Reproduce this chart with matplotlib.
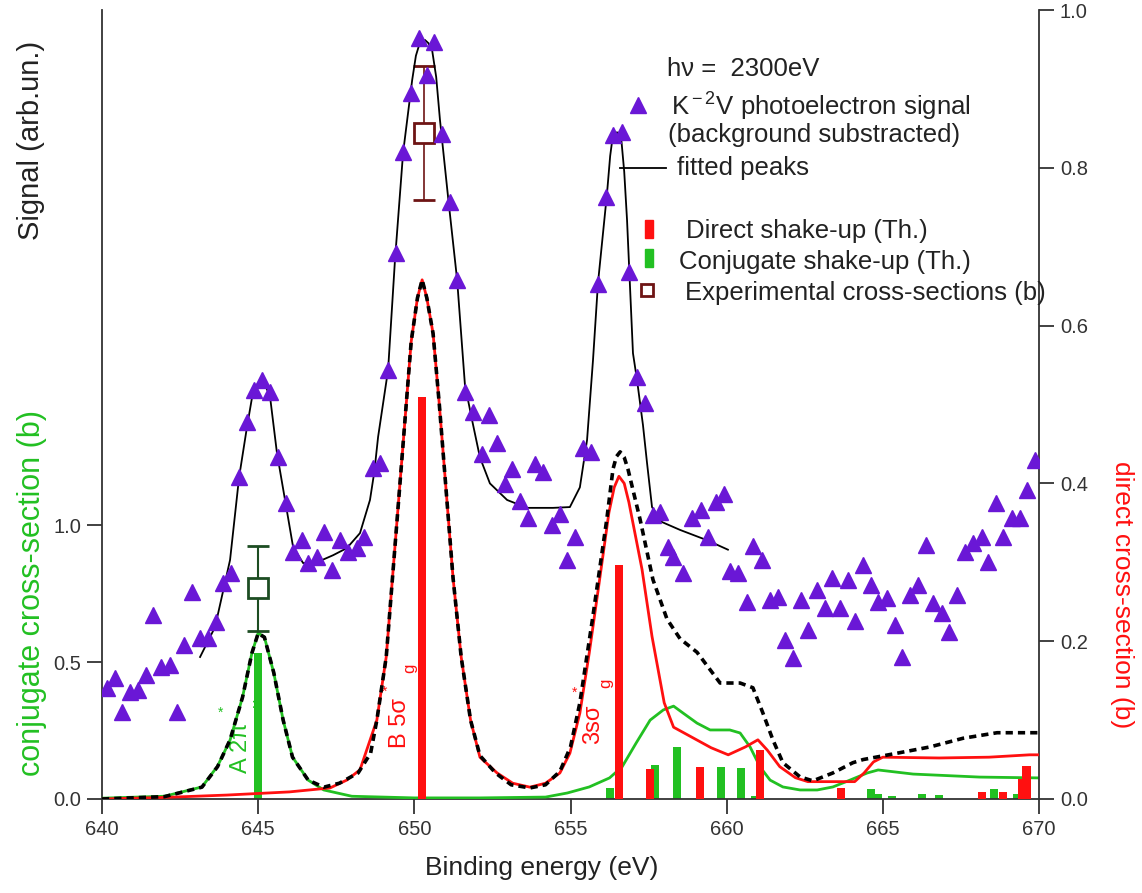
import matplotlib
matplotlib.use('Agg')
import matplotlib.pyplot as plt
from matplotlib.patches import Rectangle
from matplotlib.lines import Line2D

plt.rcParams['font.family'] = ['Liberation Sans', 'DejaVu Sans']
plt.rcParams['mathtext.fontset'] = 'custom'
plt.rcParams['mathtext.rm'] = 'Liberation Sans'
plt.rcParams['mathtext.it'] = 'Liberation Sans:italic'
plt.rcParams['mathtext.bf'] = 'Liberation Sans:bold'

# ---------------- data ----------------
# K^-2V photoelectron signal (arb. units, background subtracted)
sig_x = [640.16, 640.42, 640.64, 640.90, 641.15, 641.41, 641.63, 641.89, 642.18, 642.40,
         642.63, 642.88, 643.14, 643.39, 643.65, 643.87, 644.13, 644.39, 644.64, 644.87,
         645.12, 645.38, 645.64, 645.89, 646.12, 646.40, 646.60, 646.88, 647.11, 647.36,
         647.62, 647.88, 648.16, 648.39, 648.68, 648.90, 649.16, 649.41, 649.64, 649.89,
         650.15, 650.41, 650.63, 650.89, 651.14, 651.37, 651.62, 651.88, 652.17, 652.39,
         652.65, 652.90, 653.13, 653.38, 653.64, 653.86, 654.12, 654.41, 654.66, 654.89,
         655.14, 655.40, 655.66, 655.88, 656.14, 656.36, 656.65, 656.87, 657.13, 657.39,
         657.64, 657.87, 658.12, 658.28, 658.60, 658.89, 659.18, 659.40, 659.66, 659.91,
         660.11, 660.36, 660.65, 660.84, 661.13, 661.39, 661.64, 661.87, 662.12, 662.38,
         662.60, 662.89, 663.15, 663.37, 663.63, 663.88, 664.11, 664.37, 664.62, 664.85,
         665.13, 665.39, 665.61, 665.87, 666.13, 666.38, 666.61, 666.89, 667.12, 667.37,
         667.63, 667.89, 668.18, 668.37, 668.62, 668.85, 669.14, 669.39, 669.62, 669.87]
sig_y = [0.141, 0.153, 0.110, 0.136, 0.138, 0.157, 0.233, 0.167, 0.170, 0.110,
         0.195, 0.262, 0.204, 0.204, 0.224, 0.274, 0.286, 0.408, 0.478, 0.518,
         0.531, 0.516, 0.433, 0.375, 0.313, 0.328, 0.299, 0.307, 0.338, 0.290,
         0.328, 0.313, 0.318, 0.332, 0.420, 0.426, 0.544, 0.692, 0.820, 0.895,
         0.965, 0.918, 0.959, 0.843, 0.757, 0.658, 0.516, 0.490, 0.437, 0.487,
         0.451, 0.399, 0.418, 0.378, 0.356, 0.425, 0.414, 0.347, 0.361, 0.303,
         0.332, 0.445, 0.440, 0.653, 0.763, 0.842, 0.845, 0.668, 0.535, 0.502,
         0.360, 0.364, 0.319, 0.307, 0.286, 0.356, 0.366, 0.332, 0.376, 0.387,
         0.289, 0.286, 0.250, 0.321, 0.303, 0.252, 0.256, 0.202, 0.179, 0.252,
         0.214, 0.265, 0.242, 0.280, 0.242, 0.278, 0.226, 0.297, 0.271, 0.250,
         0.255, 0.221, 0.180, 0.259, 0.271, 0.322, 0.248, 0.236, 0.212, 0.259,
         0.313, 0.324, 0.332, 0.300, 0.375, 0.332, 0.356, 0.356, 0.392, 0.430]

# fitted peaks (signal scale)
fit_x = [643.14, 643.62, 644.10, 644.39, 644.64, 644.83, 644.98, 645.12, 645.25, 645.38,
         645.60, 645.86, 646.12, 646.44, 646.88, 647.40, 647.84, 648.26, 648.58, 648.72,
         648.84, 649.16, 649.38, 649.64, 649.93, 650.05, 650.18, 650.34, 650.45, 650.57,
         650.70, 650.82, 651.08, 651.37, 651.62, 651.85, 652.10, 652.42, 652.97, 653.61,
         654.44, 654.98, 655.30, 655.53, 655.72, 655.88, 656.17, 656.27, 656.36, 656.49,
         656.62, 656.72, 656.81, 657.00, 657.13, 657.32, 657.45, 657.61, 657.93, 658.51,
         659.37, 660.04]
fit_y = [0.180, 0.218, 0.303, 0.408, 0.471, 0.515, 0.526, 0.527, 0.522, 0.510,
         0.439, 0.379, 0.319, 0.299, 0.300, 0.309, 0.318, 0.337, 0.379, 0.415,
         0.459, 0.544, 0.683, 0.819, 0.911, 0.942, 0.959, 0.962, 0.958, 0.949,
         0.915, 0.861, 0.763, 0.658, 0.525, 0.480, 0.433, 0.400, 0.379, 0.369,
         0.369, 0.370, 0.395, 0.455, 0.556, 0.654, 0.768, 0.815, 0.842, 0.845,
         0.839, 0.795, 0.734, 0.565, 0.531, 0.474, 0.426, 0.370, 0.351, 0.341,
         0.328, 0.316]

# direct cross-section curve (b), right axis
dir_x = [640.0, 642.0, 644.0, 646.0, 647.3, 647.84, 648.26, 648.8, 649.1, 649.3,
         649.5, 649.7, 649.9, 650.1, 650.25, 650.4, 650.6, 650.8, 651.0, 651.24,
         651.5, 651.8, 652.1, 652.65, 653.15, 653.7, 654.2, 654.66, 654.98, 655.3,
         655.6, 655.9, 656.23, 656.4, 656.55, 656.72, 656.87, 657.29, 657.61, 658.0,
         658.3, 658.9, 659.5, 660.05, 660.6, 661.0, 661.3, 661.7, 662.2, 662.6,
         663.4, 664.1, 664.4, 664.7, 665.0, 666.8, 668.4, 669.7, 670.0]
dir_y = [0.0, 0.002, 0.005, 0.009, 0.014, 0.024, 0.037, 0.10, 0.18, 0.28,
         0.38, 0.48, 0.58, 0.635, 0.658, 0.635, 0.59, 0.50, 0.40, 0.28,
         0.18, 0.10, 0.053, 0.033, 0.020, 0.015, 0.020, 0.033, 0.058, 0.109,
         0.185, 0.269, 0.363, 0.395, 0.409, 0.400, 0.376, 0.291, 0.206, 0.122,
         0.091, 0.078, 0.065, 0.056, 0.066, 0.075, 0.062, 0.041, 0.027, 0.022,
         0.022, 0.022, 0.033, 0.047, 0.053, 0.052, 0.053, 0.056, 0.056]

# total (dashed) curve, right axis
tot_x = [640.0, 642.0, 643.2, 643.7, 644.1, 644.5, 644.8, 645.0, 645.2, 645.5,
         645.8, 646.1, 646.6, 647.1, 647.6, 648.2, 648.6, 648.8, 649.1, 649.3,
         649.5, 649.7, 649.9, 650.1, 650.25, 650.4, 650.6, 650.8, 651.0, 651.24,
         651.5, 651.8, 652.1, 652.6, 653.1, 653.7, 654.2, 654.66, 655.0, 655.3,
         655.7, 656.16, 656.36, 656.47, 656.59, 656.72, 656.84, 657.23, 657.64, 658.09,
         658.51, 659.05, 659.79, 660.43, 660.84, 661.16, 661.48, 661.8, 662.35, 662.76,
         663.4, 664.04, 664.37, 665.45, 666.51, 667.57, 668.66, 670.0]
tot_y = [0.0, 0.003, 0.015, 0.041, 0.075, 0.129, 0.185, 0.210, 0.205, 0.160,
         0.100, 0.053, 0.024, 0.015, 0.020, 0.033, 0.058, 0.10, 0.18, 0.28,
         0.38, 0.48, 0.58, 0.635, 0.658, 0.635, 0.59, 0.50, 0.40, 0.28,
         0.18, 0.10, 0.055, 0.033, 0.018, 0.014, 0.018, 0.035, 0.066, 0.122,
         0.227, 0.354, 0.418, 0.434, 0.440, 0.433, 0.418, 0.354, 0.278, 0.228,
         0.203, 0.186, 0.147, 0.147, 0.141, 0.109, 0.075, 0.046, 0.028, 0.023,
         0.033, 0.046, 0.050, 0.058, 0.066, 0.077, 0.084, 0.084]

# conjugate cross-section curve (b), left axis
conj_x = [640.0, 642.0, 643.2, 643.7, 644.1, 644.5, 644.8, 645.0, 645.2, 645.5,
          645.8, 646.1, 646.6, 647.1, 648.0, 650.0, 652.1, 654.2, 654.9, 655.6,
          656.25, 656.65, 657.1, 657.55, 657.97, 658.3, 658.6, 659.05, 659.47, 660.1,
          660.43, 660.75, 661.07, 661.39, 661.8, 662.35, 662.9, 663.4, 663.95, 664.5,
          664.85, 665.97, 668.1, 670.0]
conj_y = [0.003, 0.010, 0.044, 0.120, 0.215, 0.372, 0.533, 0.606, 0.591, 0.460,
          0.288, 0.153, 0.069, 0.033, 0.010, 0.004, 0.004, 0.007, 0.022, 0.044,
          0.077, 0.117, 0.204, 0.288, 0.325, 0.339, 0.314, 0.277, 0.252, 0.252,
          0.241, 0.190, 0.117, 0.069, 0.044, 0.033, 0.033, 0.044, 0.069, 0.095,
          0.106, 0.091, 0.080, 0.077]

# theoretical lines (sticks)
dbar_x = [650.25, 656.55, 657.55, 659.15, 661.07, 663.66, 668.18, 668.85, 669.45, 669.60]
dbar_y = [0.510, 0.297, 0.038, 0.041, 0.062, 0.014, 0.009, 0.009, 0.025, 0.042]
cbar_x = [645.00, 656.27, 657.70, 658.41, 659.82, 660.46, 660.90, 664.62, 664.85, 665.30,
          666.25, 666.80, 668.56, 669.28]
cbar_y = [0.533, 0.040, 0.124, 0.190, 0.117, 0.113, 0.010, 0.036, 0.020, 0.010,
          0.020, 0.015, 0.036, 0.020]

# experimental cross-sections
exp_conj_x, exp_conj_y, exp_conj_err = [645.0], [0.77], [0.155]
exp_dir_x, exp_dir_y, exp_dir_err = [650.3], [0.844], [0.085]

x_ticks = [640, 645, 650, 655, 660, 665, 670]
l_ticks = [0.0, 0.5, 1.0]
r_ticks = [0.0, 0.2, 0.4, 0.6, 0.8, 1.0]

# ---------------- style ----------------
PURPLE = '#6a17d6'
RED = '#ff1010'
GREEN = '#22c022'
DKGREEN = '#1d4d22'
DKRED = '#6e1414'
TXT = '#222222'
TICK = '#333333'

W, H = 1142, 893
fig = plt.figure(figsize=(W / 100, H / 100), dpi=100)
ax_l = fig.add_axes([102 / W, 94 / H, 937 / W, 789 / H])
ax_r = ax_l.twinx()
ax_s = ax_l.twinx()

ax_l.set_xlim(640, 670)
ax_l.set_ylim(0, 2.88)
ax_r.set_ylim(0, 1.0)
ax_s.set_ylim(0, 1.0)
ax_s.set_axis_off()

for s in ['top', 'right']:
    ax_l.spines[s].set_visible(False)
for s in ['top', 'left', 'bottom']:
    ax_r.spines[s].set_visible(False)
for sp in [ax_l.spines['left'], ax_l.spines['bottom'], ax_r.spines['right']]:
    sp.set_color(TICK)
    sp.set_linewidth(1.3)

ax_l.set_xticks(x_ticks)
ax_l.set_xticklabels([str(t) for t in x_ticks])
ax_l.set_yticks(l_ticks)
ax_l.set_yticklabels(['%.1f' % t for t in l_ticks])
ax_r.set_yticks(r_ticks)
ax_r.set_yticklabels(['%.1f' % t for t in r_ticks])
for ax in (ax_l, ax_r):
    ax.tick_params(direction='out', length=11, width=1.3, color=TICK,
                   labelsize=14.5, labelcolor=TICK, pad=4)

# conjugate (left axis)
ax_l.bar(cbar_x, cbar_y, width=0.24, color=GREEN, linewidth=0, zorder=2)
ax_l.plot(conj_x, conj_y, color=GREEN, lw=2.0, zorder=3)
ax_l.errorbar(exp_conj_x, exp_conj_y, yerr=exp_conj_err, fmt='s', ms=14, mfc='white',
              mec=DKGREEN, mew=2.0, ecolor=DKGREEN, elinewidth=1.5, capsize=8,
              capthick=1.5, zorder=4)

# direct (right axis)
ax_r.bar(dbar_x, dbar_y, width=0.26, color=RED, linewidth=0, zorder=2)
ax_r.plot(dir_x, dir_y, color=RED, lw=2.0, zorder=3)
ax_r.plot(tot_x, tot_y, color='black', lw=2.6, dashes=(2.0, 1.4), zorder=4)
ax_r.errorbar(exp_dir_x, exp_dir_y, yerr=exp_dir_err, fmt='s', ms=14, mfc='white',
              mec=DKRED, mew=2.0, ecolor=DKRED, elinewidth=1.2, capsize=8,
              capthick=1.2, zorder=5)

# signal (own scale)
ax_s.plot(fit_x, fit_y, color='black', lw=1.3, zorder=3)
ax_s.plot(sig_x, sig_y, linestyle='none', marker='^', ms=12, color=PURPLE,
          mec=PURPLE, zorder=4)

# state labels
ax_r.text(644.45, 0.065, 'A 2\u03c0', rotation=90, color=GREEN, fontsize=17,
          ha='center', va='center')
ax_r.text(644.96, 0.123, 'u', rotation=90, color=GREEN, fontsize=12, ha='center', va='center')
ax_r.text(643.78, 0.109, '*', color=GREEN, fontsize=10, ha='center', va='center')
ax_r.text(649.54, 0.096, 'B 5\u03c3', rotation=90, color=RED, fontsize=17,
          ha='center', va='center')
ax_r.text(649.86, 0.166, 'g', rotation=90, color=RED, fontsize=12, ha='center', va='center')
ax_r.text(649.06, 0.136, '*', color=RED, fontsize=10, ha='center', va='center')
ax_r.text(655.72, 0.095, '3s\u03c3', rotation=90, color=RED, fontsize=17,
          ha='center', va='center')
ax_r.text(656.14, 0.147, 'g', rotation=90, color=RED, fontsize=12, ha='center', va='center')
ax_r.text(655.14, 0.134, '*', color=RED, fontsize=10, ha='center', va='center')

# axis labels
def fx(px):
    return px / W

def fy(py):
    return 1 - py / H

fig.text(fx(542), fy(868), 'Binding energy (eV)', fontsize=19, color=TXT, ha='center', va='center')
fig.text(fx(31), fy(140), 'Signal (arb.un.)', fontsize=21, color=TXT, rotation=90,
         ha='center', va='center')
fig.text(fx(32), fy(593), 'conjugate cross-section (b)', fontsize=22, color=GREEN,
         rotation=90, ha='center', va='center')
fig.text(fx(1122), fy(595), 'direct cross-section (b)', fontsize=19, color=RED,
         rotation=270, ha='center', va='center')

# legend block
fs = 18.5
fig.text(fx(667), fy(76), 'h\u03bd =  2300eV', fontsize=fs, color=TXT, va='baseline')
fig.add_artist(Line2D([fx(638)], [fy(105)], marker='^', ms=12, color=PURPLE,
                      transform=fig.transFigure))
fig.text(fx(671), fy(116), r'K$^{\rm -2}$V photoelectron signal', fontsize=fs, color=TXT,
         va='baseline')
fig.text(fx(668), fy(142), '(background substracted)', fontsize=fs, color=TXT, va='baseline')
fig.add_artist(Line2D([fx(620), fx(666)], [fy(168), fy(168)], color='black', lw=1.3,
                      transform=fig.transFigure))
fig.text(fx(677), fy(175), 'fitted peaks', fontsize=fs, color=TXT, va='baseline')
fig.add_artist(Rectangle((fx(645), fy(238)), 8 / W, 18 / H, color=RED,
                         transform=fig.transFigure))
fig.text(fx(686), fy(238), 'Direct shake-up (Th.)', fontsize=fs, color=TXT, va='baseline')
fig.add_artist(Rectangle((fx(645), fy(267)), 8 / W, 18 / H, color=GREEN,
                         transform=fig.transFigure))
fig.text(fx(679), fy(269), 'Conjugate shake-up (Th.)', fontsize=fs, color=TXT, va='baseline')
fig.add_artist(Line2D([fx(647)], [fy(290)], marker='s', ms=9, mfc='white', mec=DKRED,
                      mew=2.0, transform=fig.transFigure))
fig.text(fx(685), fy(300), 'Experimental cross-sections (b)', fontsize=fs, color=TXT,
         va='baseline')

fig.savefig('out.png', dpi=100)
